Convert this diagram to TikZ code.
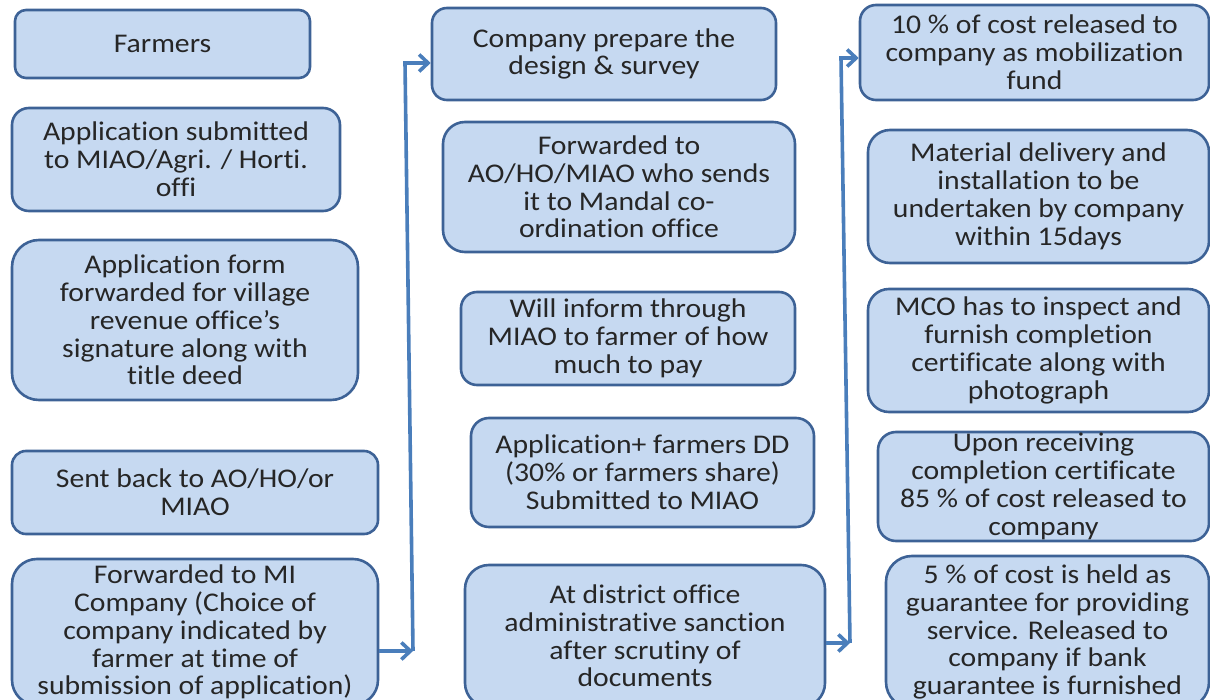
\documentclass[tikz,border=0pt]{standalone}
\usepackage{fontspec}
\setmainfont{Carlito}[FakeStretch=1.1, Ligatures={NoCommon,NoContextual,NoRequired}, RawFeature={-liga;-clig;-dlig}]
\usetikzlibrary{arrows.meta}
\definecolor{boxfill}{HTML}{C6D9F1}
\definecolor{boxline}{HTML}{3D6296}
\definecolor{flowline}{HTML}{4A7EBB}
\setlength{\lineskiplimit}{-50pt}

\begin{document}
\begin{tikzpicture}[x=1pt, y=-1pt,
    stage/.style={draw=boxline, fill=boxfill, line width=2.6pt, rounded corners=#1,
      align=center, inner sep=0pt, text=black!85,
      font=\fontsize{27}{27.8}\selectfont},
    stage/.default=16pt,
    flow/.style={draw=flowline, line width=3.6pt, -{Straight Barb[length=9pt,width=17pt]}}]
    \useasboundingbox (0,0) rectangle (1210,700);
    \clip (0,0) rectangle (1210,700);

    % Column 1: farmer side
    \node[stage=11pt, minimum width=295pt, minimum height=68pt] (farmers) at (162.5,44) {Farmers};
    \node[stage=17pt, minimum width=328pt, minimum height=103pt] (submit) at (176,159.5)
      {Application submitted\\ to MIAO/Agri. / Horti.\\ offi};
    \node[stage=27pt, minimum width=346pt, minimum height=160pt] (form) at (185,320)
      {Application form\\ forwarded for village\\ revenue office's\\ signature along with\\ title deed};
    \node[stage=14pt, minimum width=366pt, minimum height=83pt] (sentback) at (195,492.5)
      {Sent back to AO/HO/or\\ MIAO};
    \node[stage=25pt, minimum width=366pt, minimum height=146pt] (micompany) at (195,632)
      {Forwarded to MI\\ Company (Choice of\\ company indicated by\\ farmer at time of\\ submission of application)};

    % Column 2: office side
    \node[stage=15pt, minimum width=344pt, minimum height=92pt] (design) at (604,54)
      {Company prepare the\\ design \& survey};
    \node[stage=22pt, minimum width=352pt, minimum height=130pt] (forward) at (619,187)
      {Forwarded to\\ AO/HO/MIAO who sends\\ it to Mandal co-\\ ordination office};
    \node[stage=16pt, minimum width=334pt, minimum height=93pt] (inform) at (628,338.5)
      {Will inform through\\ MIAO to farmer of how\\ much to pay};
    \node[stage=18pt, minimum width=343pt, minimum height=109pt] (ddsubmit) at (642.5,472.5)
      {Application+ farmers DD\\ (30\% or farmers share)\\ Submitted to MIAO};
    \node[stage=24pt, minimum width=360pt, minimum height=142pt] (sanction) at (645,636)
      {At district office\\ administrative sanction\\ after scrutiny of\\ documents};

    % Column 3: payments to company
    \node[stage=16pt, minimum width=349pt, minimum height=95pt] (mobfund) at (1034.5,52.5)
      {10 \% of cost released to\\ company as mobilization\\ fund};
    \node[stage=22pt, minimum width=341pt, minimum height=133pt] (delivery) at (1038.5,196.5)
      {Material delivery and\\ installation to be\\ undertaken by company\\ within 15days};
    \node[stage=21pt, minimum width=341pt, minimum height=123pt] (inspect) at (1038.5,350.5)
      {MCO has to inspect and\\ furnish completion\\ certificate along with\\ photograph};
    \node[stage=18pt, minimum width=331pt, minimum height=109pt] (release) at (1043.5,486.5)
      {Upon receiving\\ completion certificate\\ 85 \% of cost released to\\ company};
    \node[stage=26pt, minimum width=323pt, minimum height=152pt] (guarantee) at (1047.5,632)
      {5 \% of cost is held as\\ guarantee for providing\\ service. Released to\\ company if bank\\ guarantee is furnished};

    % Connectors between the columns
    \coordinate (j1) at (413,651);
    \coordinate (k1) at (405,63);
    \draw[flow] (micompany.east |- j1) -- (j1);
    \draw[flow] (j1) -- (k1) -- (design.west |- k1);

    \coordinate (j2) at (850,643);
    \coordinate (k2) at (841,58);
    \draw[flow] (sanction.east |- j2) -- (j2);
    \draw[flow] (j2) -- (k2) -- (mobfund.west |- k2);
  \end{tikzpicture}
\end{document}
